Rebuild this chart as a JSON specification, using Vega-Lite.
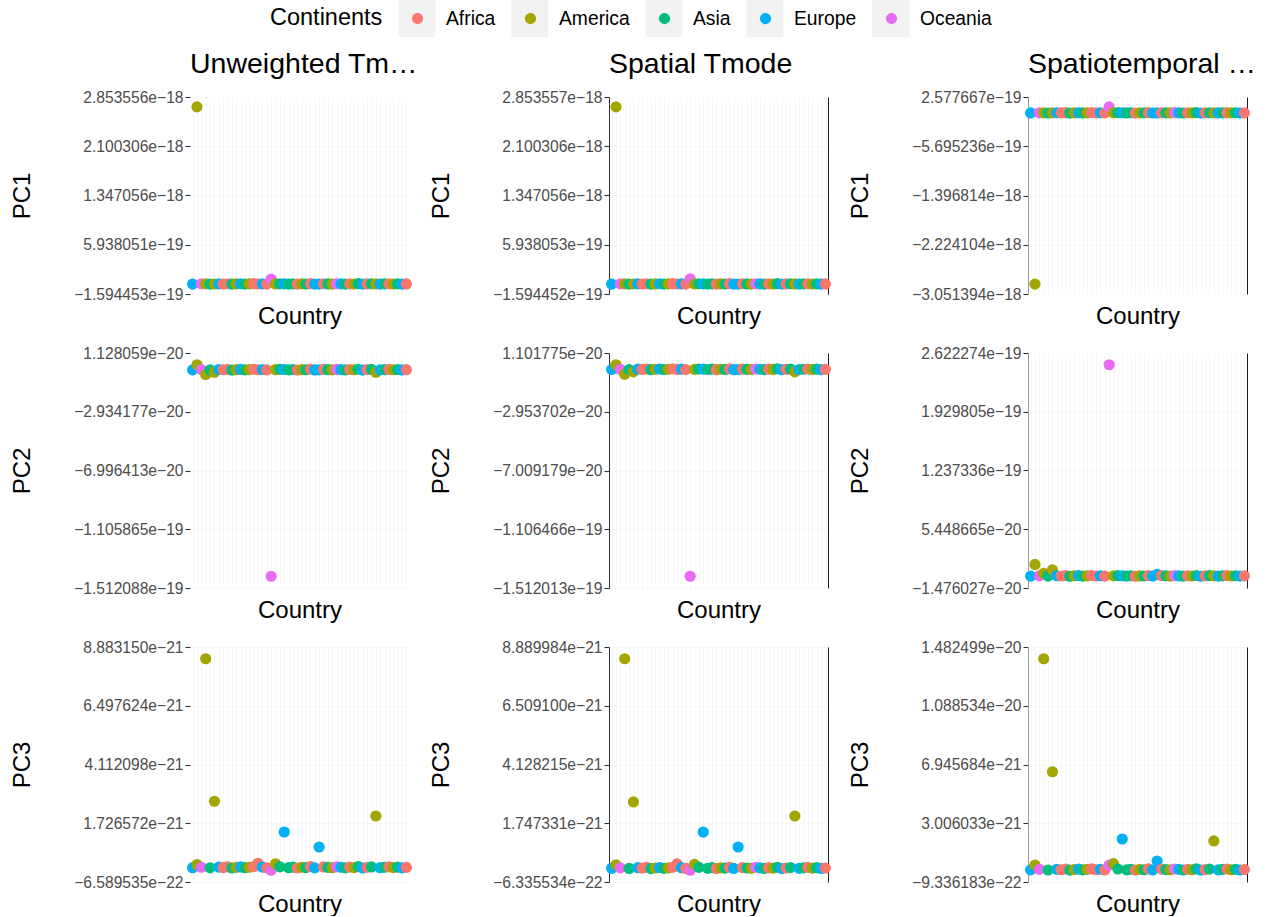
{
  "$schema": "https://vega.github.io/schema/vega-lite/v6.json",
  "background": "white",
  "padding": {"left": 10, "top": 0, "right": 0, "bottom": 0},
  "autosize": {"type": "pad"},
  "datasets": {
    "pca": [
      {"country":"C01","continent":"Europe","u1":-7.2e-21,"s1":-7.2e-21,"t1":-1.04e-20,"u2":-3.8e-22,"s2":-3.8e-22,"t2":-7.1e-22,"u3":-7.8e-23,"s3":-7.8e-23,"t3":-1.2e-22},
      {"country":"C02","continent":"America","u1":2.702906e-18,"s1":2.702907e-18,"t1":-2.885936e-18,"u2":3.156e-21,"s2":2.9068e-21,"t2":1.3e-20,"u3":5e-23,"s3":6e-23,"t3":2e-22},
      {"country":"C03","continent":"Oceania","u1":-4.8e-21,"s1":-4.8e-21,"t1":-8.0e-21,"u2":-2.0e-22,"s2":-2.0e-22,"t2":-4.1e-22,"u3":-6e-23,"s3":-6e-23,"t3":-9e-23},
      {"country":"C04","continent":"America","u1":-4.8e-21,"s1":-4.8e-21,"t1":-8.0e-21,"u2":-3.6e-21,"s2":-3.6e-21,"t2":2.5e-21,"u3":8.40604e-21,"s3":8.413807e-21,"t3":1.403706e-20},
      {"country":"C05","continent":"Asia","u1":-8.0e-21,"s1":-8.0e-21,"t1":-1.12e-20,"u2":-4.4e-22,"s2":-4.4e-22,"t2":-8.1e-22,"u3":-8.4e-23,"s3":-8.4e-23,"t3":-1.3e-22},
      {"country":"C06","continent":"America","u1":-6.4e-21,"s1":-6.4e-21,"t1":-9.6e-21,"u2":-2.0e-21,"s2":-2.0e-21,"t2":6.5e-21,"u3":2.62e-21,"s3":2.61e-21,"t3":6.46e-21},
      {"country":"C07","continent":"Europe","u1":-4.0e-21,"s1":-4.0e-21,"t1":-7.2e-21,"u2":-1.4e-22,"s2":-1.4e-22,"t2":-3.1e-22,"u3":-5.4e-23,"s3":-5.4e-23,"t3":-8e-23},
      {"country":"C08","continent":"Africa","u1":-6.4e-21,"s1":-6.4e-21,"t1":-9.6e-21,"u2":-3.2e-22,"s2":-3.2e-22,"t2":-6.1e-22,"u3":-7.2e-23,"s3":-7.2e-23,"t3":-1.1e-22},
      {"country":"C09","continent":"Africa","u1":-2.4e-21,"s1":-2.4e-21,"t1":-5.6e-21,"u2":-2e-23,"s2":-2e-23,"t2":-1.1e-22,"u3":-4.2e-23,"s3":-4.2e-23,"t3":-6e-23},
      {"country":"C10","continent":"Asia","u1":-8.8e-21,"s1":-8.8e-21,"t1":-1.2e-20,"u2":-5.0e-22,"s2":-5.0e-22,"t2":-9.1e-22,"u3":-9e-23,"s3":-9e-23,"t3":-1.4e-22},
      {"country":"C11","continent":"America","u1":-5.6e-21,"s1":-5.6e-21,"t1":-8.8e-21,"u2":-2.6e-22,"s2":-2.6e-22,"t2":-5.1e-22,"u3":-6.6e-23,"s3":-6.6e-23,"t3":-1.0e-22},
      {"country":"C12","continent":"Europe","u1":-3.2e-21,"s1":-3.2e-21,"t1":-6.4e-21,"u2":-8e-23,"s2":-8e-23,"t2":-2.1e-22,"u3":-4.8e-23,"s3":-4.8e-23,"t3":-7e-23},
      {"country":"C13","continent":"Asia","u1":-7.2e-21,"s1":-7.2e-21,"t1":-1.04e-20,"u2":-3.8e-22,"s2":-3.8e-22,"t2":-7.1e-22,"u3":-7.8e-23,"s3":-7.8e-23,"t3":-1.2e-22},
      {"country":"C14","continent":"America","u1":-4.8e-21,"s1":-4.8e-21,"t1":-8.0e-21,"u2":-2.0e-22,"s2":-2.0e-22,"t2":-4.1e-22,"u3":-6e-23,"s3":-6e-23,"t3":-9e-23},
      {"country":"C15","continent":"Africa","u1":-1.6e-21,"s1":-1.6e-21,"t1":-4.8e-21,"u2":4e-23,"s2":4e-23,"t2":-1e-23,"u3":-3.6e-23,"s3":-3.6e-23,"t3":-5e-23},
      {"country":"C16","continent":"Africa","u1":-6.4e-21,"s1":-6.4e-21,"t1":-9.6e-21,"u2":-3.2e-22,"s2":-3.2e-22,"t2":-6.1e-22,"u3":1.0e-22,"s3":1.0e-22,"t3":-1.1e-22},
      {"country":"C17","continent":"Europe","u1":-4.0e-21,"s1":-4.0e-21,"t1":-7.2e-21,"u2":-1.4e-22,"s2":-1.4e-22,"t2":-3.1e-22,"u3":-5.4e-23,"s3":-5.4e-23,"t3":-8e-23},
      {"country":"C18","continent":"Africa","u1":-8.0e-21,"s1":-8.0e-21,"t1":-1.12e-20,"u2":-4.4e-22,"s2":-4.4e-22,"t2":-8.1e-22,"u3":-8.4e-23,"s3":-8.4e-23,"t3":-1.3e-22},
      {"country":"C19","continent":"Oceania","u1":7.0e-20,"s1":7.1e-20,"t1":9.2309e-20,"u2":-1.430843e-19,"s2":-1.430903e-19,"t2":2.48378e-19,"u3":-1.818483e-22,"s3":-1.573765e-22,"t3":2e-22},
      {"country":"C20","continent":"America","u1":-5.6e-21,"s1":-5.6e-21,"t1":-8.8e-21,"u2":-2.6e-22,"s2":-2.6e-22,"t2":-5.1e-22,"u3":8e-23,"s3":8e-23,"t3":3e-22},
      {"country":"C21","continent":"Asia","u1":-2.4e-21,"s1":-2.4e-21,"t1":-5.6e-21,"u2":-2e-23,"s2":-2e-23,"t2":-1.1e-22,"u3":-4.2e-23,"s3":-4.2e-23,"t3":-6e-23},
      {"country":"C22","continent":"Europe","u1":-4.0e-21,"s1":-4.0e-21,"t1":-7.2e-21,"u2":-1.4e-22,"s2":-1.4e-22,"t2":-3.1e-22,"u3":1.37e-21,"s3":1.39e-21,"t3":1.95e-21},
      {"country":"C23","continent":"Asia","u1":-7.2e-21,"s1":-7.2e-21,"t1":-1.04e-20,"u2":-3.8e-22,"s2":-3.8e-22,"t2":-7.1e-22,"u3":-7.8e-23,"s3":-7.8e-23,"t3":-1.2e-22},
      {"country":"C24","continent":"Asia","u1":-4.0e-21,"s1":-4.0e-21,"t1":-7.2e-21,"u2":-1.4e-22,"s2":-1.4e-22,"t2":-3.1e-22,"u3":-5.4e-23,"s3":-5.4e-23,"t3":-8e-23},
      {"country":"C25","continent":"Africa","u1":-8.8e-21,"s1":-8.8e-21,"t1":-1.2e-20,"u2":-5.0e-22,"s2":-5.0e-22,"t2":-9.1e-22,"u3":-9e-23,"s3":-9e-23,"t3":-1.4e-22},
      {"country":"C26","continent":"America","u1":-4.8e-21,"s1":-4.8e-21,"t1":-8.0e-21,"u2":-2.0e-22,"s2":-2.0e-22,"t2":-4.1e-22,"u3":-6e-23,"s3":-6e-23,"t3":-9e-23},
      {"country":"C27","continent":"Asia","u1":-6.4e-21,"s1":-6.4e-21,"t1":-9.6e-21,"u2":-3.2e-22,"s2":-3.2e-22,"t2":-6.1e-22,"u3":-7.2e-23,"s3":-7.2e-23,"t3":-1.1e-22},
      {"country":"C28","continent":"Africa","u1":-1.6e-21,"s1":-1.6e-21,"t1":-4.8e-21,"u2":4e-23,"s2":4e-23,"t2":-1e-23,"u3":-3.6e-23,"s3":-3.6e-23,"t3":-5e-23},
      {"country":"C29","continent":"Europe","u1":-8.0e-21,"s1":-8.0e-21,"t1":-1.12e-20,"u2":-4.4e-22,"s2":-4.4e-22,"t2":-8.1e-22,"u3":-8.4e-23,"s3":-8.4e-23,"t3":-1.3e-22},
      {"country":"C30","continent":"Europe","u1":-7.2e-21,"s1":-7.2e-21,"t1":-1.04e-20,"u2":-3.8e-22,"s2":-3.8e-22,"t2":1.2e-21,"u3":7.62e-22,"s3":7.84e-22,"t3":4.75e-22},
      {"country":"C31","continent":"Africa","u1":-3.2e-21,"s1":-3.2e-21,"t1":-6.4e-21,"u2":-8e-23,"s2":-8e-23,"t2":-2.1e-22,"u3":-4.8e-23,"s3":-4.8e-23,"t3":-7e-23},
      {"country":"C32","continent":"Asia","u1":-5.6e-21,"s1":-5.6e-21,"t1":-8.8e-21,"u2":-2.6e-22,"s2":-2.6e-22,"t2":-5.1e-22,"u3":-6.6e-23,"s3":-6.6e-23,"t3":-1.0e-22},
      {"country":"C33","continent":"America","u1":-7.2e-21,"s1":-7.2e-21,"t1":-1.04e-20,"u2":-3.8e-22,"s2":-3.8e-22,"t2":-7.1e-22,"u3":-7.8e-23,"s3":-7.8e-23,"t3":-1.2e-22},
      {"country":"C34","continent":"Oceania","u1":-2.4e-21,"s1":-2.4e-21,"t1":-5.6e-21,"u2":-2e-23,"s2":-2e-23,"t2":-1.1e-22,"u3":-4.2e-23,"s3":-4.2e-23,"t3":-6e-23},
      {"country":"C35","continent":"Europe","u1":-4.8e-21,"s1":-4.8e-21,"t1":-8.0e-21,"u2":-2.0e-22,"s2":-2.0e-22,"t2":-4.1e-22,"u3":-6e-23,"s3":-6e-23,"t3":-9e-23},
      {"country":"C36","continent":"Asia","u1":-8.0e-21,"s1":-8.0e-21,"t1":-1.12e-20,"u2":-4.4e-22,"s2":-4.4e-22,"t2":-8.1e-22,"u3":-8.4e-23,"s3":-8.4e-23,"t3":-1.3e-22},
      {"country":"C37","continent":"Africa","u1":-4.0e-21,"s1":-4.0e-21,"t1":-7.2e-21,"u2":-1.4e-22,"s2":-1.4e-22,"t2":-3.1e-22,"u3":-5.4e-23,"s3":-5.4e-23,"t3":-8e-23},
      {"country":"C38","continent":"America","u1":-6.4e-21,"s1":-6.4e-21,"t1":-9.6e-21,"u2":-3.2e-22,"s2":-3.2e-22,"t2":-6.1e-22,"u3":-7.2e-23,"s3":-7.2e-23,"t3":-1.1e-22},
      {"country":"C39","continent":"Asia","u1":-1.6e-21,"s1":-1.6e-21,"t1":-4.8e-21,"u2":4e-23,"s2":4e-23,"t2":-1e-23,"u3":-3.6e-23,"s3":-3.6e-23,"t3":-5e-23},
      {"country":"C40","continent":"Europe","u1":-8.8e-21,"s1":-8.8e-21,"t1":-1.2e-20,"u2":-5.0e-22,"s2":-5.0e-22,"t2":-9.1e-22,"u3":-9e-23,"s3":-9e-23,"t3":-1.4e-22},
      {"country":"C41","continent":"Africa","u1":-5.6e-21,"s1":-5.6e-21,"t1":-8.8e-21,"u2":-2.6e-22,"s2":-2.6e-22,"t2":-5.1e-22,"u3":-6.6e-23,"s3":-6.6e-23,"t3":-1.0e-22},
      {"country":"C42","continent":"Asia","u1":-3.2e-21,"s1":-3.2e-21,"t1":-6.4e-21,"u2":-8e-23,"s2":-8e-23,"t2":-2.1e-22,"u3":-4.8e-23,"s3":-4.8e-23,"t3":-7e-23},
      {"country":"C43","continent":"America","u1":-5.6e-21,"s1":-5.6e-21,"t1":-8.8e-21,"u2":-2.0e-21,"s2":-2.0e-21,"t2":-5.1e-22,"u3":2.02e-21,"s3":2.04e-21,"t3":1.82e-21},
      {"country":"C44","continent":"Europe","u1":-7.2e-21,"s1":-7.2e-21,"t1":-1.04e-20,"u2":-3.8e-22,"s2":-3.8e-22,"t2":-7.1e-22,"u3":-7.8e-23,"s3":-7.8e-23,"t3":-1.2e-22},
      {"country":"C45","continent":"Asia","u1":-4.8e-21,"s1":-4.8e-21,"t1":-8.0e-21,"u2":-2.0e-22,"s2":-2.0e-22,"t2":-4.1e-22,"u3":-6e-23,"s3":-6e-23,"t3":-9e-23},
      {"country":"C46","continent":"Africa","u1":-2.4e-21,"s1":-2.4e-21,"t1":-5.6e-21,"u2":-2e-23,"s2":-2e-23,"t2":-1.1e-22,"u3":-4.2e-23,"s3":-4.2e-23,"t3":-6e-23},
      {"country":"C47","continent":"America","u1":-6.4e-21,"s1":-6.4e-21,"t1":-9.6e-21,"u2":-3.2e-22,"s2":-3.2e-22,"t2":-6.1e-22,"u3":-7.2e-23,"s3":-7.2e-23,"t3":-1.1e-22},
      {"country":"C48","continent":"Asia","u1":-4.0e-21,"s1":-4.0e-21,"t1":-7.2e-21,"u2":-1.4e-22,"s2":-1.4e-22,"t2":-3.1e-22,"u3":-5.4e-23,"s3":-5.4e-23,"t3":-8e-23},
      {"country":"C49","continent":"Europe","u1":-8.0e-21,"s1":-8.0e-21,"t1":-1.12e-20,"u2":-4.4e-22,"s2":-4.4e-22,"t2":-8.1e-22,"u3":-8.4e-23,"s3":-8.4e-23,"t3":-1.3e-22},
      {"country":"C50","continent":"Africa","u1":-5.6e-21,"s1":-5.6e-21,"t1":-8.8e-21,"u2":-2.6e-22,"s2":-2.6e-22,"t2":-5.1e-22,"u3":-6.6e-23,"s3":-6.6e-23,"t3":-1.0e-22}
    ]
  },
  "data": {"name": "pca"},
  "columns": 3,
  "bounds": "flush",
  "align": "each",
  "spacing": {"row": 59, "column": 200},
  "concat": [
    {
      "width": 219, "height": 197,
      "title": {"text": "Unweighted Tmode", "limit": 232},
      "encoding": {"x": {"field": "country", "type": "nominal", "sort": null, "scale": {"type": "point", "padding": 0.6}, "axis": {"title": "Country"}}},
      "layer": [
        {
          "mark": {"type": "point", "filled": true, "size": 125, "opacity": 1},
          "encoding": {
            "y": {"field": "u1", "type": "quantitative", "scale": {"domain": [-1.594453e-19, 2.853556e-18], "nice": false, "zero": false},
                  "axis": {"title": "PC1", "values": [-1.594453e-19, 5.938051e-19, 1.347056e-18, 2.100306e-18, 2.853556e-18], "labelExpr": "replace(format(datum.value, '.6e'), 'e-', 'e−')"}},
            "color": {"field": "continent", "type": "nominal",
                      "scale": {"range": ["#F8766D", "#A3A500", "#00BF7D", "#00B0F6", "#E76BF3"]},
                      "legend": {"title": "Continents", "orient": "none", "legendX": 80, "legendY": -97, "direction": "horizontal",
                                 "titleOrient": "left", "titleAnchor": "start", "titleBaseline": "line-top", "titleLineHeight": 36, "titlePadding": 16,
                                 "titleFontSize": 23.5, "titleFontWeight": "normal", "titleColor": "#000000",
                                 "labelFontSize": 19.3, "labelColor": "#000000", "labelOffset": 10, "columnPadding": 16,
                                 "symbolType": "M0.3,0A0.3,0.3,0,1,1,-0.3,0A0.3,0.3,0,1,1,0.3,0Z", "symbolSize": 1369,
                                 "symbolStrokeWidth": 0, "padding": 0, "zindex": 2}}
          }
        },
        {
          "mark": {"type": "square", "size": 0},
          "encoding": {
            "y": {"field": "u1", "type": "quantitative", "scale": {"domain": [-1.594453e-19, 2.853556e-18], "nice": false, "zero": false}},
            "fill": {"field": "continent", "type": "nominal",
                     "scale": {"domain": ["Africa", "America", "Asia", "Europe", "Oceania"], "range": ["#f2f2f2", "#f2f2f2", "#f2f2f2", "#f2f2f2", "#f2f2f2"]},
                     "legend": {"title": null, "orient": "none", "legendX": 208.3, "legendY": -97, "direction": "horizontal",
                                "labelFontSize": 19.3, "labelColor": "transparent", "labelOffset": 10, "columnPadding": 16,
                                "symbolType": "square", "symbolSize": 1369, "symbolStrokeWidth": 0, "symbolOpacity": 1,
                                "padding": 0, "zindex": 1}}
          }
        }
      ]
    },
    {
      "width": 219, "height": 197,
      "title": {"text": "Spatial Tmode"},
      "encoding": {"x": {"field": "country", "type": "nominal", "sort": null, "scale": {"type": "point", "padding": 0.6}, "axis": {"title": "Country"}}},
      "resolve": {"axis": {"y": "independent"}},
      "layer": [
        {
          "mark": {"type": "point", "filled": true, "size": 125, "opacity": 1},
          "encoding": {
            "y": {"field": "s1", "type": "quantitative", "scale": {"domain": [-1.594452e-19, 2.853557e-18], "nice": false, "zero": false},
                  "axis": {"title": "PC1", "domain": true, "domainColor": "#333333", "values": [-1.594452e-19, 5.938053e-19, 1.347056e-18, 2.100306e-18, 2.853557e-18], "labelExpr": "replace(format(datum.value, '.6e'), 'e-', 'e−')"}},
            "color": {"field": "continent", "type": "nominal", "scale": {"range": ["#F8766D", "#A3A500", "#00BF7D", "#00B0F6", "#E76BF3"]}}
          }
        },
        {
          "mark": {"type": "point", "size": 0},
          "encoding": {
            "y": {"field": "s1", "type": "quantitative", "scale": {"domain": [-1.594452e-19, 2.853557e-18], "nice": false, "zero": false},
                  "axis": {"orient": "right", "title": null, "labels": false, "ticks": false, "grid": false, "domain": true, "domainColor": "#1a1a1a", "minExtent": 0, "maxExtent": 0}}
          }
        }
      ]
    },
    {
      "width": 219, "height": 197,
      "title": {"text": "Spatiotemporal Tmode", "limit": 240},
      "encoding": {"x": {"field": "country", "type": "nominal", "sort": null, "scale": {"type": "point", "padding": 0.6}, "axis": {"title": "Country"}}},
      "resolve": {"axis": {"y": "independent"}},
      "layer": [
        {
          "mark": {"type": "point", "filled": true, "size": 125, "opacity": 1},
          "encoding": {
            "y": {"field": "t1", "type": "quantitative", "scale": {"domain": [-3.051394e-18, 2.577667e-19], "nice": false, "zero": false},
                  "axis": {"title": "PC1", "domain": true, "domainColor": "#9a9a9a", "values": [-3.051394e-18, -2.224104e-18, -1.396814e-18, -5.695236e-19, 2.577667e-19], "labelExpr": "replace(format(datum.value, '.6e'), 'e-', 'e−')"}},
            "color": {"field": "continent", "type": "nominal", "scale": {"range": ["#F8766D", "#A3A500", "#00BF7D", "#00B0F6", "#E76BF3"]}}
          }
        },
        {
          "mark": {"type": "point", "size": 0},
          "encoding": {
            "y": {"field": "t1", "type": "quantitative", "scale": {"domain": [-3.051394e-18, 2.577667e-19], "nice": false, "zero": false},
                  "axis": {"orient": "right", "title": null, "labels": false, "ticks": false, "grid": false, "domain": true, "domainColor": "#1a1a1a", "minExtent": 0, "maxExtent": 0}}
          }
        }
      ]
    },
    {
      "width": 219, "height": 235,
      "mark": {"type": "point", "filled": true, "size": 125, "opacity": 1},
      "encoding": {
        "x": {"field": "country", "type": "nominal", "sort": null, "scale": {"type": "point", "padding": 0.6}, "axis": {"title": "Country"}},
        "y": {"field": "u2", "type": "quantitative", "scale": {"domain": [-1.512088e-19, 1.128059e-20], "nice": false, "zero": false},
              "axis": {"title": "PC2", "values": [-1.512088e-19, -1.105865e-19, -6.996413e-20, -2.934177e-20, 1.128059e-20], "labelExpr": "replace(format(datum.value, '.6e'), 'e-', 'e−')"}},
        "color": {"field": "continent", "type": "nominal", "scale": {"range": ["#F8766D", "#A3A500", "#00BF7D", "#00B0F6", "#E76BF3"]}}
      }
    },
    {
      "width": 219, "height": 235,
      "encoding": {"x": {"field": "country", "type": "nominal", "sort": null, "scale": {"type": "point", "padding": 0.6}, "axis": {"title": "Country"}}},
      "resolve": {"axis": {"y": "independent"}},
      "layer": [
        {
          "mark": {"type": "point", "filled": true, "size": 125, "opacity": 1},
          "encoding": {
            "y": {"field": "s2", "type": "quantitative", "scale": {"domain": [-1.512013e-19, 1.101775e-20], "nice": false, "zero": false},
                  "axis": {"title": "PC2", "domain": true, "domainColor": "#333333", "values": [-1.512013e-19, -1.106466e-19, -7.009179e-20, -2.953702e-20, 1.101775e-20], "labelExpr": "replace(format(datum.value, '.6e'), 'e-', 'e−')"}},
            "color": {"field": "continent", "type": "nominal", "scale": {"range": ["#F8766D", "#A3A500", "#00BF7D", "#00B0F6", "#E76BF3"]}}
          }
        },
        {
          "mark": {"type": "point", "size": 0},
          "encoding": {
            "y": {"field": "s2", "type": "quantitative", "scale": {"domain": [-1.512013e-19, 1.101775e-20], "nice": false, "zero": false},
                  "axis": {"orient": "right", "title": null, "labels": false, "ticks": false, "grid": false, "domain": true, "domainColor": "#1a1a1a", "minExtent": 0, "maxExtent": 0}}
          }
        }
      ]
    },
    {
      "width": 219, "height": 235,
      "encoding": {"x": {"field": "country", "type": "nominal", "sort": null, "scale": {"type": "point", "padding": 0.6}, "axis": {"title": "Country"}}},
      "resolve": {"axis": {"y": "independent"}},
      "layer": [
        {
          "mark": {"type": "point", "filled": true, "size": 125, "opacity": 1},
          "encoding": {
            "y": {"field": "t2", "type": "quantitative", "scale": {"domain": [-1.476027e-20, 2.622274e-19], "nice": false, "zero": false},
                  "axis": {"title": "PC2", "domain": true, "domainColor": "#9a9a9a", "values": [-1.476027e-20, 5.448665e-20, 1.237336e-19, 1.929805e-19, 2.622274e-19], "labelExpr": "replace(format(datum.value, '.6e'), 'e-', 'e−')"}},
            "color": {"field": "continent", "type": "nominal", "scale": {"range": ["#F8766D", "#A3A500", "#00BF7D", "#00B0F6", "#E76BF3"]}}
          }
        },
        {
          "mark": {"type": "point", "size": 0},
          "encoding": {
            "y": {"field": "t2", "type": "quantitative", "scale": {"domain": [-1.476027e-20, 2.622274e-19], "nice": false, "zero": false},
                  "axis": {"orient": "right", "title": null, "labels": false, "ticks": false, "grid": false, "domain": true, "domainColor": "#1a1a1a", "minExtent": 0, "maxExtent": 0}}
          }
        }
      ]
    },
    {
      "width": 219, "height": 235,
      "mark": {"type": "point", "filled": true, "size": 125, "opacity": 1},
      "encoding": {
        "x": {"field": "country", "type": "nominal", "sort": null, "scale": {"type": "point", "padding": 0.6}, "axis": {"title": "Country"}},
        "y": {"field": "u3", "type": "quantitative", "scale": {"domain": [-6.589535e-22, 8.883150e-21], "nice": false, "zero": false},
              "axis": {"title": "PC3", "values": [-6.589535e-22, 1.726572e-21, 4.112098e-21, 6.497624e-21, 8.883150e-21], "labelExpr": "replace(format(datum.value, '.6e'), 'e-', 'e−')"}},
        "color": {"field": "continent", "type": "nominal", "scale": {"range": ["#F8766D", "#A3A500", "#00BF7D", "#00B0F6", "#E76BF3"]}}
      }
    },
    {
      "width": 219, "height": 235,
      "encoding": {"x": {"field": "country", "type": "nominal", "sort": null, "scale": {"type": "point", "padding": 0.6}, "axis": {"title": "Country"}}},
      "resolve": {"axis": {"y": "independent"}},
      "layer": [
        {
          "mark": {"type": "point", "filled": true, "size": 125, "opacity": 1},
          "encoding": {
            "y": {"field": "s3", "type": "quantitative", "scale": {"domain": [-6.335534e-22, 8.889984e-21], "nice": false, "zero": false},
                  "axis": {"title": "PC3", "domain": true, "domainColor": "#333333", "values": [-6.335534e-22, 1.747331e-21, 4.128215e-21, 6.509100e-21, 8.889984e-21], "labelExpr": "replace(format(datum.value, '.6e'), 'e-', 'e−')"}},
            "color": {"field": "continent", "type": "nominal", "scale": {"range": ["#F8766D", "#A3A500", "#00BF7D", "#00B0F6", "#E76BF3"]}}
          }
        },
        {
          "mark": {"type": "point", "size": 0},
          "encoding": {
            "y": {"field": "s3", "type": "quantitative", "scale": {"domain": [-6.335534e-22, 8.889984e-21], "nice": false, "zero": false},
                  "axis": {"orient": "right", "title": null, "labels": false, "ticks": false, "grid": false, "domain": true, "domainColor": "#1a1a1a", "minExtent": 0, "maxExtent": 0}}
          }
        }
      ]
    },
    {
      "width": 219, "height": 235,
      "encoding": {"x": {"field": "country", "type": "nominal", "sort": null, "scale": {"type": "point", "padding": 0.6}, "axis": {"title": "Country"}}},
      "resolve": {"axis": {"y": "independent"}},
      "layer": [
        {
          "mark": {"type": "point", "filled": true, "size": 125, "opacity": 1},
          "encoding": {
            "y": {"field": "t3", "type": "quantitative", "scale": {"domain": [-9.336183e-22, 1.482499e-20], "nice": false, "zero": false},
                  "axis": {"title": "PC3", "domain": true, "domainColor": "#9a9a9a", "values": [-9.336183e-22, 3.006033e-21, 6.945684e-21, 1.088534e-20, 1.482499e-20], "labelExpr": "replace(format(datum.value, '.6e'), 'e-', 'e−')"}},
            "color": {"field": "continent", "type": "nominal", "scale": {"range": ["#F8766D", "#A3A500", "#00BF7D", "#00B0F6", "#E76BF3"]}}
          }
        },
        {
          "mark": {"type": "point", "size": 0},
          "encoding": {
            "y": {"field": "t3", "type": "quantitative", "scale": {"domain": [-9.336183e-22, 1.482499e-20], "nice": false, "zero": false},
                  "axis": {"orient": "right", "title": null, "labels": false, "ticks": false, "grid": false, "domain": true, "domainColor": "#1a1a1a", "minExtent": 0, "maxExtent": 0}}
          }
        }
      ]
    }
  ],
  "config": {
    "font": "Liberation Sans",
    "view": {"stroke": null},
    "axis": {
      "labelFont": "Liberation Sans", "labelFontSize": 15.6, "labelColor": "#4d4d4d", "labelPadding": 2,
      "tickColor": "#333333", "tickSize": 5, "tickWidth": 1.1,
      "titleFont": "Liberation Sans", "titleFontSize": 24, "titleFontWeight": "normal", "titleColor": "#000000",
      "gridColor": "#f4f4f4", "gridWidth": 0.6, "domain": false
    },
    "axisY": {"minExtent": 146, "maxExtent": 146, "titlePadding": 10, "grid": true},
    "axisX": {"labels": false, "ticks": false, "domain": false, "grid": true, "minExtent": 0, "maxExtent": 0, "titlePadding": 10},
    "title": {"font": "Liberation Sans", "fontSize": 28.5, "fontWeight": "normal", "color": "#000000", "anchor": "start", "frame": "group", "offset": 12},
    "legend": {"labelFont": "Liberation Sans", "titleFont": "Liberation Sans"}
  }
}
